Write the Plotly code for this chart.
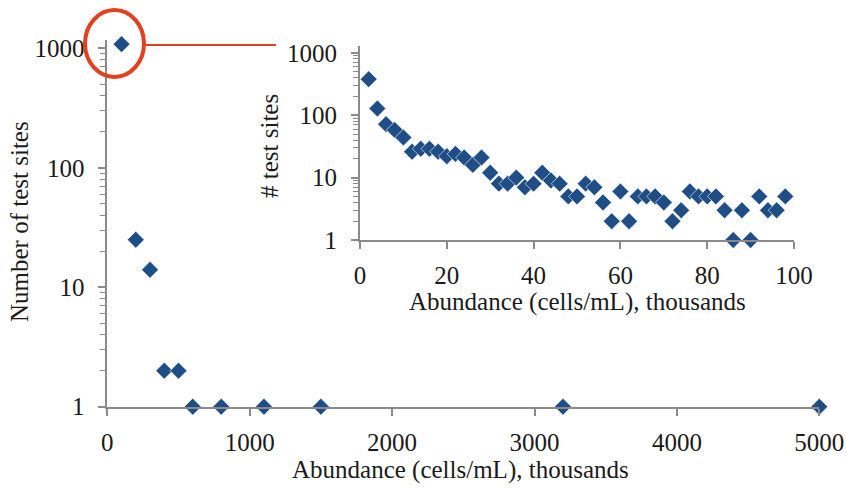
import plotly.graph_objects as go

# Main chart data (abundance bins, thousands cells/mL)
main_x = [100, 200, 300, 400, 500, 600, 800, 1100, 1500, 3200, 5000]
main_y = [1085, 25, 14, 2, 2, 1, 1, 1, 1, 1, 1]

# Inset data (0-100 thousand cells/mL, 2k bins)
inset_x = list(range(2, 100, 2))
inset_y = [379, 128, 72, 58, 44, 26, 29, 29, 26, 22, 24, 21, 16, 21, 12, 8, 8, 10, 7, 8,
           12, 9, 8, 5, 5, 8, 7, 4, 2, 6, 2, 5, 5, 5, 4, 2, 3, 6, 5, 5,
           5, 3, 1, 3, 1, 5, 3, 3, 5]

main_xticks = [0, 1000, 2000, 3000, 4000, 5000]
inset_xticks = [0, 20, 40, 60, 80, 100]
log_ticks = [1, 10, 100, 1000]
log_ticktext = ["1", "10", "100", "1000"]

x_title = "Abundance (cells/mL), thousands"
main_y_title = "Number of test sites"
inset_y_title = "# test sites"

W, H = 846, 488
FONT = "Liberation Serif"
FS = 25
AXC = "#8a8a8a"
MC = "#1f4e87"
RED = "#e2401e"
TXT = "#1a1a1a"


def px(x):
    return x / W


def py(y):
    return 1 - y / H


fig = go.Figure()
fig.add_trace(go.Scatter(x=main_x, y=main_y, mode="markers", xaxis="x", yaxis="y",
                         marker=dict(symbol="diamond", size=13, color=MC,
                                     line=dict(color="white", width=0.6)),
                         cliponaxis=False, showlegend=False))
fig.add_trace(go.Scatter(x=inset_x, y=inset_y, mode="markers", xaxis="x2", yaxis="y2",
                         marker=dict(symbol="diamond", size=13, color=MC,
                                     line=dict(color="white", width=0.6)),
                         cliponaxis=False, showlegend=False))

axis_common = dict(showline=True, linecolor=AXC, linewidth=1.8, showgrid=False,
                   zeroline=False, ticks="outside", tickcolor=AXC, tickwidth=1.5,
                   ticklen=7, automargin=False,
                   tickfont=dict(family=FONT, size=FS, color=TXT))

fig.update_layout(
    template="none",
    width=W, height=H, margin=dict(l=0, r=0, t=0, b=0, pad=0),
    paper_bgcolor="white", plot_bgcolor="rgba(0,0,0,0)",
    xaxis=dict(domain=[px(107.3), px(819.3)], range=[0, 5000], anchor="y",
               tickvals=main_xticks, ticklabelstandoff=5, **axis_common),
    yaxis=dict(domain=[py(406.7), py(40)], type="log", range=[0, 3.07], anchor="x",
               tickvals=log_ticks, ticktext=log_ticktext, ticklabelstandoff=9,
               minor=dict(ticks="outside", ticklen=5, tickcolor=AXC, tickwidth=1.2, dtick="D1"),
               **axis_common),
    xaxis2=dict(domain=[px(360), px(794)], range=[0, 100], anchor="y2",
                tickvals=inset_xticks, ticklabelstandoff=5, **axis_common),
    yaxis2=dict(domain=[py(240), py(46)], type="log", range=[0, 3.11], anchor="x2",
                tickvals=log_ticks, ticktext=log_ticktext, ticklabelstandoff=9,
                minor=dict(ticks="outside", ticklen=5, tickcolor=AXC, tickwidth=1.2, dtick="D1"),
                **axis_common),
)

tfont = dict(family=FONT, size=FS, color=TXT)
fig.add_annotation(x=px(460), y=py(470), xref="paper", yref="paper", text=x_title,
                   showarrow=False, font=tfont, xanchor="center", yanchor="middle")
fig.add_annotation(x=px(577), y=py(302), xref="paper", yref="paper", text=x_title,
                   showarrow=False, font=tfont, xanchor="center", yanchor="middle")
fig.add_annotation(x=px(19), y=py(222), xref="paper", yref="paper", text=main_y_title,
                   showarrow=False, font=tfont, textangle=-90, xanchor="center", yanchor="middle")
fig.add_annotation(x=px(269), y=py(146), xref="paper", yref="paper", text=inset_y_title,
                   showarrow=False, font=tfont, textangle=-90, xanchor="center", yanchor="middle")

# Red callout circle and connector line
fig.add_shape(type="circle", xref="paper", yref="paper",
              x0=px(85), x1=px(144), y0=py(77), y1=py(10),
              line=dict(color=RED, width=4))
fig.add_shape(type="line", xref="paper", yref="paper",
              x0=px(144), x1=px(276), y0=py(45), y1=py(45),
              line=dict(color=RED, width=2))

fig.write_html("out.html")
